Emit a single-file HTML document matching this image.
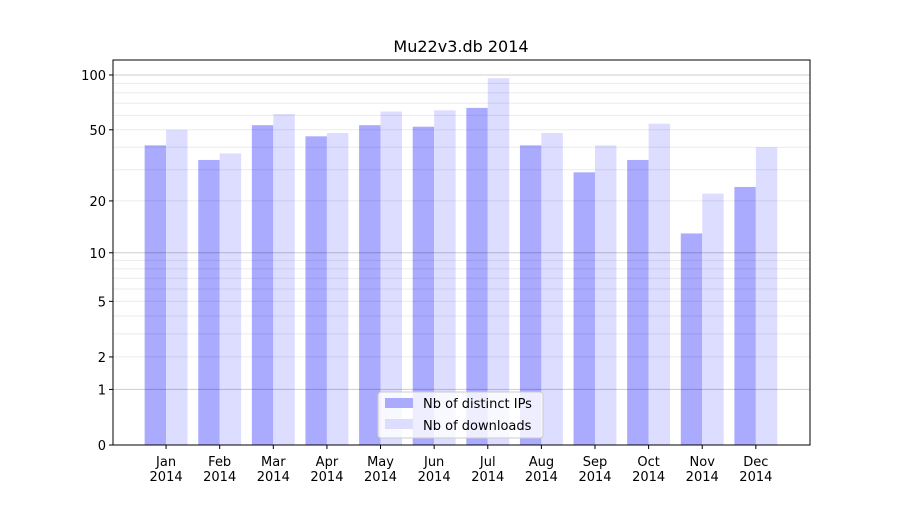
<!DOCTYPE html>
<html><head><meta charset="utf-8"><style>
body{margin:0;background:#fff;}
svg text{font-family:"DejaVu Sans","Liberation Sans",sans-serif;font-size:13px;fill:#000;}
</style></head><body>
<svg id="chart" width="900" height="500" xmlns="http://www.w3.org/2000/svg">
<rect width="900" height="500" fill="#fff"/>
<text x="461" y="52" text-anchor="middle" style="font-size:16px">Mu22v3.db 2014</text>
<g id="bars"></g>
<g id="grid"></g>
<g id="axes"></g>
<g>
<rect x="378" y="392" width="165" height="46" rx="3" fill="#fff" fill-opacity="0.8" stroke="#ccc"/>
<rect x="385" y="398" width="28" height="10" fill="#aaaaff"/>
<text x="423" y="408">Nb of distinct IPs</text>
<rect x="385" y="419" width="28" height="10" fill="#ddddff"/>
<text x="423" y="430">Nb of downloads</text>
</g>
</svg>
<script>
const months = ["Jan","Feb","Mar","Apr","May","Jun","Jul","Aug","Sep","Oct","Nov","Dec"];
const ips = [41,34,53,46,53,52,66,41,29,34,13,24];
const downloads = [50,37,61,48,63,64,96,48,41,54,22,40];
const yTicks = [0,1,2,5,10,20,50,100];
const NS="http://www.w3.org/2000/svg";
const L=113,R=810,T=60,B=445;
function y(v){return B-184.6*Math.log10(1+v);}
const step=(R-L)/13;
function x(i){return L+step*(i+0.99);}
function mk(tag,attrs,parent){const e=document.createElementNS(NS,tag);for(const k in attrs)e.setAttribute(k,attrs[k]);parent.appendChild(e);return e;}
const bars=document.getElementById('bars'),grid=document.getElementById('grid'),axes=document.getElementById('axes');
const bw=step*0.4;
months.forEach((m,i)=>{
  let r=mk('rect',{x:x(i)-bw,y:y(ips[i]),width:bw,height:B-y(ips[i]),fill:'#aaaaff'},bars);
  
  
  r=mk('rect',{x:x(i),y:y(downloads[i]),width:bw,height:B-y(downloads[i]),fill:'#ddddff'},bars);
  
  
  mk('line',{x1:x(i),x2:x(i),y1:B,y2:B+4,stroke:'#000'},axes);
  let t=mk('text',{x:x(i),y:B+21,'text-anchor':'middle'},axes);t.textContent=m;
  
  
  t=mk('text',{x:x(i),y:B+36,'text-anchor':'middle'},axes);t.textContent='2014';
  
  
});
const minors=[];for(const d of [1,10])for(let k=2;k<=9;k++)minors.push(k*d);
minors.forEach(v=>mk('line',{x1:L,x2:R,y1:y(v),y2:y(v),stroke:'#000','stroke-opacity':0.08},grid));
[1,10,100].forEach(v=>mk('line',{x1:L,x2:R,y1:y(v),y2:y(v),stroke:'#000','stroke-opacity':0.2},grid));
yTicks.forEach(v=>{
  mk('line',{x1:L-4,x2:L,y1:y(v),y2:y(v),stroke:'#000'},axes);
  const t=mk('text',{x:L-7,y:y(v)+5,'text-anchor':'end'},axes);t.textContent=v;
  
  
});
const f=mk('rect',{x:L,y:T,width:R-L,height:B-T,fill:'none',stroke:'#000'},axes);


</script>
</body></html>
